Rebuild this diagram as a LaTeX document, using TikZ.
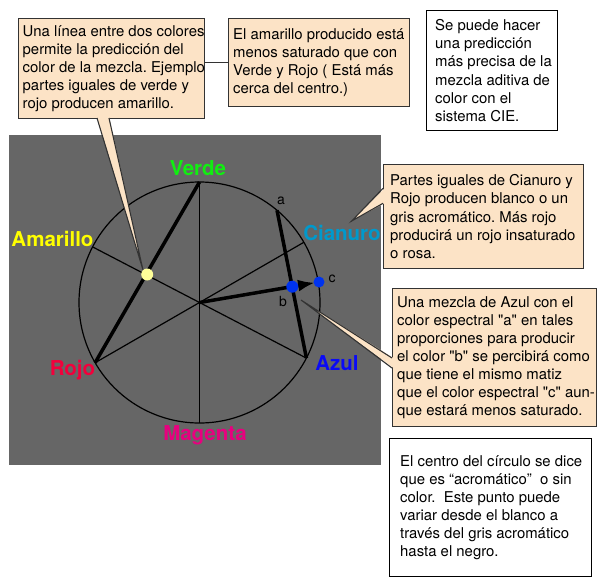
\documentclass[tikz,border=0pt]{standalone}
\usepackage{fontspec}
\setmainfont{TeX Gyre Heros}[Ligatures=TeXOff]
\frenchspacing
\usetikzlibrary{arrows.meta}
\definecolor{bggray}{HTML}{666666}
\definecolor{peach}{HTML}{FCE3C6}
\definecolor{cverde}{HTML}{11EE11}
\definecolor{camarillo}{HTML}{FFFF00}
\definecolor{crojo}{HTML}{F2003C}
\definecolor{ccian}{HTML}{0099CC}
\definecolor{cazul}{HTML}{0A0AF5}
\definecolor{cmagenta}{HTML}{E8007F}
\definecolor{cdot}{HTML}{0033EE}
\definecolor{cydot}{HTML}{FFFF99}
\definecolor{bordercol}{HTML}{333333}
\begin{document}
\begin{tikzpicture}[x=1pt,y=-1pt,
  spoke/.style={line width=1.2pt, black},
  heavy/.style={line width=3.5pt, black},
  colorlabel/.style={font=\fontsize{20.5}{24}\selectfont\bfseries, inner sep=0},
  smalllabel/.style={font=\fontsize{14}{16}\selectfont, text=black, inner sep=0},
  callbox/.style={draw=bordercol, line width=1.1pt, fill=peach, inner sep=0, anchor=north west},
  notebox/.style={draw=black, line width=1.1pt, fill=white, inner sep=0, anchor=north west},
  boxtext/.style={font=\fontsize{14.9}{18.1}\selectfont, align=left, anchor=west, inner sep=0},
  pointerfill/.style={fill=peach},
  pointerline/.style={draw=bordercol, line width=1.1pt, line join=miter},
]
\useasboundingbox (0,0) rectangle (597,587);
% background panel
\fill[bggray] (9,135) rectangle (381,465);

% geometry
\coordinate (O) at (199.5,302.5);
\coordinate (V) at (199.5,182);
\coordinate (M) at (199.5,423);
\coordinate (A) at (92.6,246.9);
\coordinate (Z) at (306.4,358.1);
\coordinate (R) at (95.1,362.75);
\coordinate (C) at (303.9,242.25);
\coordinate (pa) at (277,210.2);
\coordinate (pb) at (292.3,286.7);
\coordinate (pc) at (319,282);
\coordinate (Y) at (147.2,274.5);

\draw[spoke] (V) -- (M);
\draw[spoke] (A) -- (Z);
\draw[spoke] (R) -- (C);
\draw[spoke] (O) circle (120.5pt);

\draw[heavy] (R) -- (V);
\draw[heavy] (pa) -- (Z);
\draw[heavy, -{Latex[length=17pt,width=12pt]}, shorten >=4pt] (O) -- (pc);

% color labels
\node[colorlabel, text=cverde] (lverde) at (198,168) {Verde};
\node[colorlabel, text=camarillo] (lamarillo) at (52.5,238.5) {Amarillo};
\node[colorlabel, text=crojo] (lrojo) at (72.5,370) {Rojo};
\node[colorlabel, text=ccian] (lcian) at (342,233) {Cianuro};
\node[colorlabel, text=cazul] (lazul) at (337,363) {Azul};
\node[colorlabel, text=cmagenta] (lmagenta) at (205,435) {Magenta};

\node[smalllabel] (la) at (281,201) {a};
\node[smalllabel] (lb) at (283,301) {b};
\node[smalllabel] (lc) at (332,279) {c};

% box 1
\node[callbox, minimum width=186pt, minimum height=100pt] (box1) at (18,18) {};
\node[boxtext] (t1) at ([xshift=4.5pt]box1.west) {Una línea entre dos colores\\permite la predicción del\\color de la mezcla. Ejemplo\\partes iguales de verde y\\rojo producen amarillo.};
\fill[pointerfill] (97,116.5) -- (143,270) -- (109,116.5) -- cycle;
\draw[pointerline] (97,118) -- (143,270) -- (109,118);

% yellow dot and blue dots
\fill[cydot] (Y) circle (6pt);
\fill[cdot] (pb) circle (6pt);
\fill[cdot] (pc) circle (5.5pt);

% box 2
\node[callbox, minimum width=181pt, minimum height=88pt] (box2) at (228,18) {};
\node[boxtext] (t2) at ([xshift=5pt]box2.west) {El amarillo producido está\\menos saturado que con\\Verde y Rojo ( Está más\\cerca del centro.)};
\draw[spoke, draw=bordercol] (box2.west -| box1.east) -- (box2.west);

% box 3
\node[notebox, minimum width=131pt, minimum height=120pt] (box3) at (426,10) {};
\node[boxtext] (t3) at ([xshift=9pt]box3.west) {Se puede hacer\\una predicción\\más precisa de la\\mezcla aditiva de\\color con el\\sistema CIE.};

% box 4
\node[callbox, minimum width=200pt, minimum height=104pt] (box4) at (383,164) {};
\node[boxtext] (t4) at ([xshift=7pt]box4.west) {Partes iguales de Cianuro y\\Rojo producen blanco o un\\gris acromático. Más rojo\\producirá un rojo insaturado\\o rosa.};
\fill[pointerfill] (384.5,188.3) -- (351.7,221) -- (384.5,203.3) -- cycle;
\draw[pointerline] (383,188.3) -- (351.7,221) -- (383,203.3);

% box 5
\node[callbox, minimum width=204pt, minimum height=138pt] (box5) at (392,288) {};
\node[boxtext] (t5) at ([xshift=5pt]box5.west) {Una mezcla de Azul con el\\color espectral "a" en tales\\proporciones para producir\\el color "b" se percibirá como\\que tiene el mismo matiz\\que el color espectral "c" aun-\\que estará menos saturado.};
\fill[pointerfill] (393.5,358) -- (301,300) -- (393.5,368) -- cycle;
\draw[pointerline] (392,358) -- (301,300) -- (392,368);

% box 6
\node[notebox, minimum width=202pt, minimum height=138pt] (box6) at (389,438) {};
\node[boxtext] (t6) at ([xshift=11pt]box6.west) {El centro del círculo se dice\\que es “acromático”\ \ o sin\\color.\ \ Este punto puede\\variar desde el blanco a\\través del gris acromático\\hasta el negro.};
\end{tikzpicture}
\end{document}
